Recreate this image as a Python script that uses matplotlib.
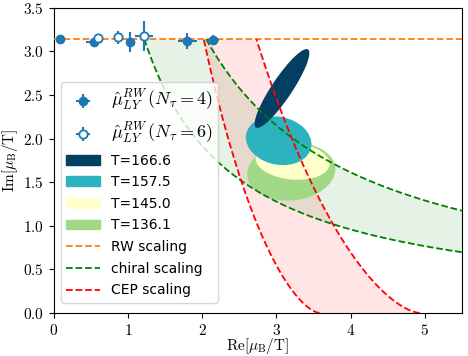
import numpy as np
import matplotlib

matplotlib.use("Agg")
import matplotlib.pyplot as plt
from matplotlib.patches import Ellipse, Patch

plt.rcParams["mathtext.fontset"] = "cm"

# Lee-Yang edge estimates, Re/Im of mu_B/T
nt4_re = [0.08, 0.54, 1.02, 1.80, 2.14]
nt4_im = [3.14, 3.11, 3.11, 3.12, 3.13]
nt4_re_err = [0.0, 0.11, 0.0, 0.13, 0.08]
nt4_im_err = [0.0, 0.03, 0.115, 0.09, 0.06]

nt6_re = [0.60, 0.87, 1.21]
nt6_im = [3.15, 3.16, 3.18]
nt6_re_err = [0.0, 0.0, 0.12]
nt6_im_err = [0.0, 0.075, 0.17]

# Pade ellipses: centre, semi-axes, tilt (data coords)
temps = ["136.1", "145.0", "157.5", "166.6"]
ell_center = [(3.20, 1.62), (3.22, 1.74), (3.03, 1.975), (3.075, 2.575)]
ell_semi = [(0.595, 0.33), (0.50, 0.21), (0.445, 0.275), (0.569, 0.13)]
ell_angle = [4, -4, -8, 51.4]
ell_color = ["#a1d886", "#ffffcc", "#2bb3c0", "#033f63"]

# chiral scaling: Im(mu^2)/2 = Re*Im = const (lower, upper band edge)
chiral_xy = [3.83, 6.45]

# CEP scaling: Re = x0 - a s - b s^2, Im = pi s^(beta*delta)
beta_delta = 1.5635
cep_x0 = [3.58, 4.93]
cep_a = [1.885, 2.59]
cep_b = [-0.325, -0.39]

fig = plt.figure(figsize=(4.68, 3.56), dpi=100)
ax = fig.add_axes([0.115, 0.121, 0.872, 0.857])

# chiral band
x = np.linspace(0.5, 5.5, 400)
lo = chiral_xy[0] / x
hi = np.minimum(chiral_xy[1] / x, np.pi)
mask = lo <= np.pi
ax.fill_between(x[mask], lo[mask], hi[mask], color="green", alpha=0.1, lw=0, zorder=1)

# CEP band
s = np.linspace(0, 1, 300)
y_cep = np.pi * s ** beta_delta
x_cep = [x0 - a * s - b * s**2 for x0, a, b in zip(cep_x0, cep_a, cep_b)]
ax.fill_betweenx(y_cep, x_cep[0], x_cep[1], color="red", alpha=0.1, lw=0, zorder=1)

for c, (w, h), ang, col in zip(ell_center, ell_semi, ell_angle, ell_color):
    ax.add_patch(Ellipse(c, 2 * w, 2 * h, angle=ang, color=col, lw=0, zorder=2))

ax.axhline(np.pi, color="#ff7f0e", ls="--", lw=1.3, zorder=3)
for k in chiral_xy:
    xx = np.linspace(k / np.pi, 5.5, 300)
    ax.plot(xx, k / xx, color="green", ls="--", lw=1.3, zorder=3)
for xc in x_cep:
    ax.plot(xc, y_cep, color="red", ls="--", lw=1.3, zorder=3)

ax.errorbar(nt4_re, nt4_im, xerr=nt4_re_err, yerr=nt4_im_err, fmt="o",
            color="#1f77b4", ms=6, elinewidth=1.5, zorder=5)
ax.errorbar(nt6_re, nt6_im, xerr=nt6_re_err, yerr=nt6_im_err, fmt="o",
            color="#1f77b4", mfc="white", mew=1.3, ms=6, elinewidth=1.5, zorder=5)

ax.set_xlim(0, 5.5)
ax.set_ylim(0, 3.5)
ax.set_xticks(range(6))
ax.set_xticklabels([f"${i}$" for i in range(6)], fontsize=11)
yt = np.arange(0, 3.51, 0.5)
ax.set_yticks(yt)
ax.set_yticklabels([f"${v:.1f}$" for v in yt], fontsize=11)
ax.set_xlabel(r"$\mathrm{Re}[\mu_\mathrm{B}/\mathrm{T}]$", fontsize=11, labelpad=-1)
ax.set_ylabel(r"$\mathrm{Im}[\mu_\mathrm{B}/\mathrm{T}]$", fontsize=11, labelpad=2)

h4 = ax.errorbar([], [], xerr=[], yerr=[], fmt="o", color="#1f77b4", ms=6, elinewidth=1.5)
h6 = ax.errorbar([], [], xerr=[], yerr=[], fmt="o", color="#1f77b4", mfc="white",
                 mew=1.3, ms=6, elinewidth=1.5)
handles = [h4, h6]
labels = [r"$\hat\mu_{LY}^{RW}\,(N_\tau=4)$", r"$\hat\mu_{LY}^{RW}\,(N_\tau=6)$"]
for t, col in zip(temps[::-1], ell_color[::-1]):
    handles.append(Patch(color=col))
    labels.append(f"T={t}")
for col, lab in [("#ff7f0e", "RW scaling"), ("green", "chiral scaling"), ("red", "CEP scaling")]:
    handles.append(plt.Line2D([], [], color=col, ls="--", lw=1.3))
    labels.append(lab)
leg = ax.legend(handles, labels, loc="lower left", fontsize=10, handlelength=2.4,
                labelspacing=0.55, framealpha=0.8, bbox_to_anchor=(0.0, 0.01))
for txt in leg.get_texts()[:2]:
    txt.set_fontsize(13)

fig.savefig("out.png", dpi=100)
